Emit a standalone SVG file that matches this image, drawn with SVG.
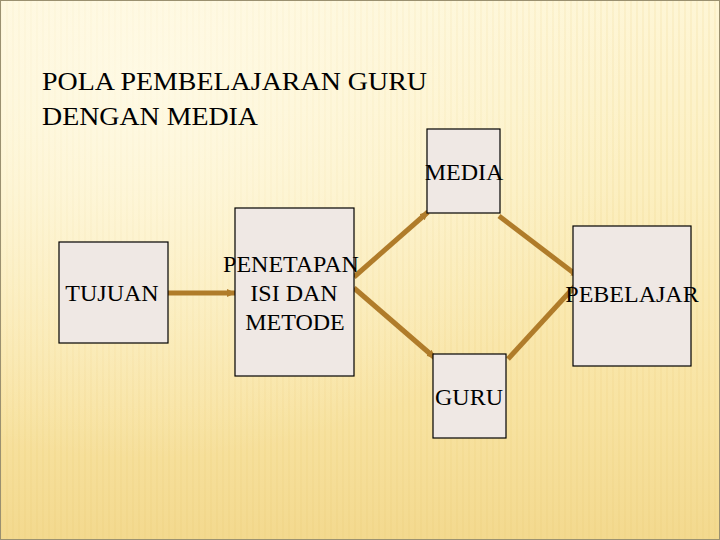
<svg xmlns="http://www.w3.org/2000/svg" width="720" height="540" viewBox="0 0 720 540">
<defs>
<linearGradient id="bg" x1="0" y1="0" x2="0" y2="1">
<stop offset="0" stop-color="#FEF6D6"/>
<stop offset="0.35" stop-color="#FCEFC0"/>
<stop offset="0.75" stop-color="#F8E3A2"/>
<stop offset="1" stop-color="#F3D98E"/>
</linearGradient>
<radialGradient id="glow" cx="0.2" cy="0.15" r="0.7">
<stop offset="0" stop-color="#FFFBEA" stop-opacity="0.8"/>
<stop offset="1" stop-color="#FFFBEA" stop-opacity="0"/>
</radialGradient>
<pattern id="stripes" width="6" height="540" patternUnits="userSpaceOnUse">
<rect x="0" y="0" width="2" height="540" fill="#E8C870" fill-opacity="0.12"/>
</pattern>
<marker id="ah" markerWidth="10" markerHeight="10" refX="8" refY="5" orient="auto" markerUnits="userSpaceOnUse">
<path d="M0,1 L9,5 L0,9 Z" fill="#B07C2A"/>
</marker>
</defs>
<style>
.box{fill:#EFE8E4;stroke:#000;stroke-width:1.2}
.lbl{font-size:24px;fill:#000;text-anchor:middle}
.title{font-size:26px;fill:#000}
.conn{stroke:#B07C2A;stroke-width:5;fill:none;marker-end:url(#ah)}
</style>
<rect width="720" height="540" fill="url(#bg)"/>
<rect width="720" height="540" fill="url(#stripes)"/>
<rect width="720" height="540" fill="url(#glow)"/>
<rect x="0.5" y="0.5" width="719" height="539" fill="none" stroke="#9A9070" stroke-width="1"/>
<g id="title">
<text class="title" font-family="Liberation Serif, serif" x="42" y="90" textLength="385" lengthAdjust="spacingAndGlyphs">POLA PEMBELAJARAN GURU</text>
<text class="title" font-family="Liberation Serif, serif" x="42" y="125" textLength="216" lengthAdjust="spacingAndGlyphs">DENGAN MEDIA</text>
</g>
<g id="connectors">
<line class="conn" x1="168" y1="293" x2="235" y2="293"/>
<line class="conn" x1="354" y1="277" x2="428" y2="212"/>
<line class="conn" x1="354" y1="288" x2="435" y2="358"/>
<line class="conn" x1="499" y1="216" x2="579" y2="277"/>
<line class="conn" x1="508" y1="359" x2="576" y2="285"/>
</g>
<g id="tujuan">
<rect class="box" x="59" y="242" width="109" height="101"/>
<text class="lbl" font-family="Liberation Serif, serif" x="112" y="301">TUJUAN</text>
</g>
<g id="penetapan">
<rect class="box" x="235" y="208" width="119" height="168"/>
<text class="lbl" font-family="Liberation Serif, serif" x="291" y="272">PENETAPAN</text>
<text class="lbl" font-family="Liberation Serif, serif" x="294" y="301">ISI DAN</text>
<text class="lbl" font-family="Liberation Serif, serif" x="295" y="330">METODE</text>
</g>
<g id="media">
<rect class="box" x="427" y="129" width="73" height="84"/>
<text class="lbl" font-family="Liberation Serif, serif" x="464" y="180">MEDIA</text>
</g>
<g id="guru">
<rect class="box" x="433" y="354" width="73" height="84"/>
<text class="lbl" font-family="Liberation Serif, serif" x="469" y="405">GURU</text>
</g>
<g id="pebelajar">
<rect class="box" x="573" y="226" width="118" height="140"/>
<text class="lbl" font-family="Liberation Serif, serif" x="632" y="302">PEBELAJAR</text>
</g>
</svg>
